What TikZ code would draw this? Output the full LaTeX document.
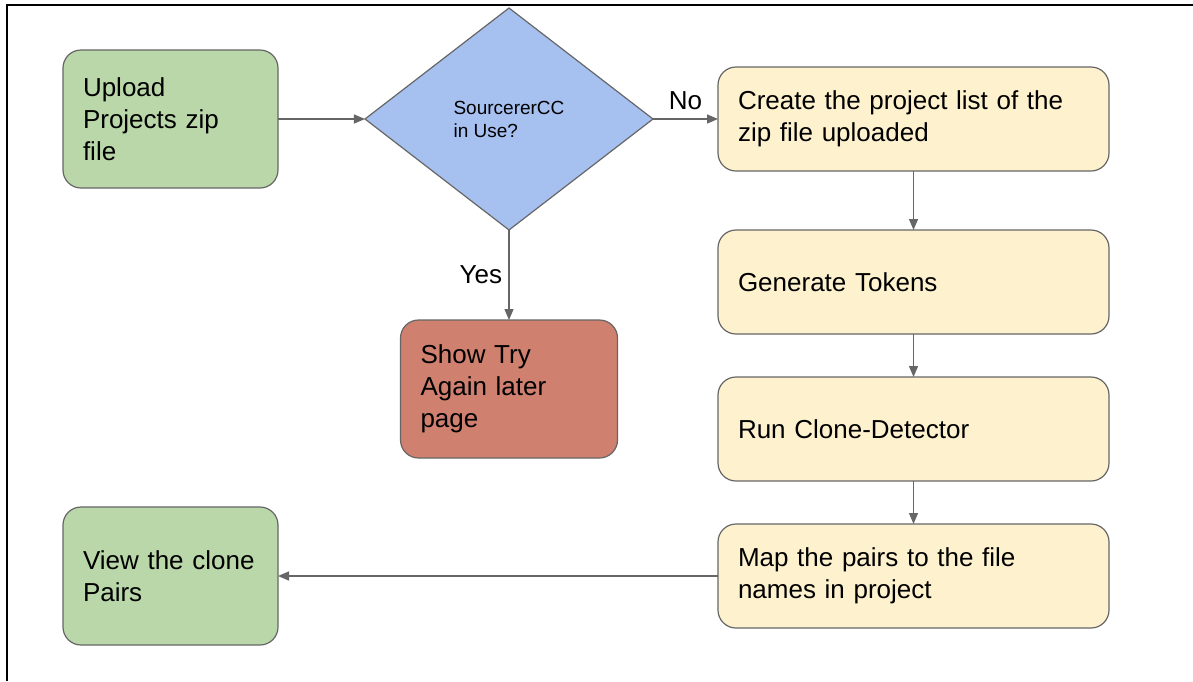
\documentclass[tikz,border=0pt]{standalone}
\usepackage{fontspec}
\setmainfont{Liberation Sans}
\usetikzlibrary{arrows.meta,shapes.geometric,positioning}
\definecolor{stepgreen}{HTML}{B9D7A9}
\definecolor{stepyellow}{HTML}{FDF1CE}
\definecolor{stepred}{HTML}{CF806F}
\definecolor{stepblue}{HTML}{A6C0F0}
\definecolor{linegray}{HTML}{666666}
\begin{document}
\begin{tikzpicture}[
  x=1pt, y=-1pt,
  node distance=43pt and 65pt,
  box/.style={draw=linegray, line width=1.2pt, rounded corners=18pt, align=left, inner xsep=20pt, inner ysep=0pt, outer sep=0pt, font=\fontsize{26}{32}\selectfont},
  greenbox/.style={box, fill=stepgreen, text width=175pt, minimum height=138pt},
  yellowbox/.style={box, fill=stepyellow, text width=351pt, minimum height=104pt},
  redbox/.style={box, fill=stepred, text width=177pt, minimum height=138pt},
  decbox/.style={diamond, draw=linegray, line width=1.2pt, fill=stepblue, minimum width=288pt, minimum height=222pt, inner sep=0pt, outer sep=0pt, align=left, font=\fontsize{19}{23}\selectfont},
  lbl/.style={font=\fontsize{26}{32}\selectfont},
  arr/.style={draw=linegray, line width=1.3pt, -{Triangle[length=11pt, width=9pt]}}
]
\useasboundingbox (0,0) rectangle (1193,681);
\draw[line width=2.5pt] (7,681) -- (7,5) -- (1193,5);
\node[greenbox] (upload) at (170.5,119) {Upload\\Projects zip\\file};
\node[decbox, right=87pt of upload] (dec) {SourcererCC\\in Use?};
\node[yellowbox, right=65pt of dec] (create) {Create the project list of the\\zip file uploaded};
\node[yellowbox, below=59pt of create] (tokens) {Generate Tokens};
\node[yellowbox, below=of tokens] (clone) {Run Clone-Detector};
\node[yellowbox, below=of clone] (mapfiles) {Map the pairs to the file\\names in project};
\node[redbox, below=90pt of dec] (tryagain) {Show Try\\Again later\\page};
\node[greenbox, left=440pt of mapfiles] (view) {View the clone\\Pairs};
\draw[arr] (upload) -- (dec);
\draw[arr] (dec) -- node[lbl, above=5pt] {No} (create);
\draw[arr] (dec) -- node[lbl, left=3pt] {Yes} (tryagain);
\draw[arr] (create) -- (tokens);
\draw[arr] (tokens) -- (clone);
\draw[arr] (clone) -- (mapfiles);
\draw[arr] (mapfiles) -- (view);
\end{tikzpicture}
\end{document}
